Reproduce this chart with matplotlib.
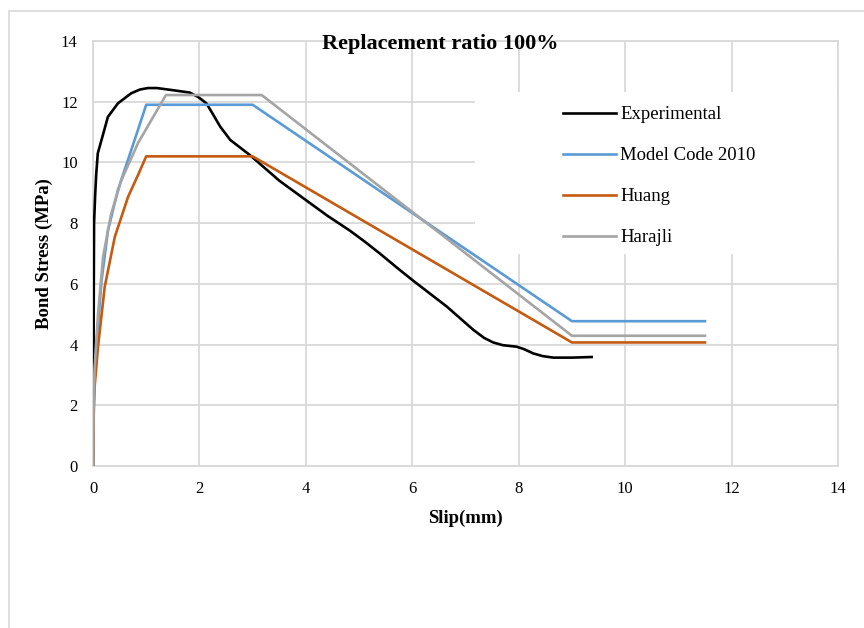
import matplotlib
matplotlib.use("Agg")
from matplotlib import pyplot as plt
from matplotlib.patches import Rectangle

plt.rcParams['font.family'] = ['Liberation Serif', 'DejaVu Serif']

# experimental curve
exp_s = [0, 0.01, 0.015, 0.02, 0.04, 0.06, 0.09, 0.16, 0.28, 0.47, 0.72, 0.88, 1.03, 1.2,
         1.5, 1.82, 1.98, 2.13, 2.25, 2.39, 2.58, 2.95, 3.5, 4.0, 4.4, 4.83, 5.1, 5.39,
         5.77, 6.02, 6.65, 7.15, 7.35, 7.52, 7.7, 7.96, 8.1, 8.27, 8.45, 8.65, 9.0, 9.37]
exp_t = [0, 3.0, 6.0, 8.0, 8.9, 9.6, 10.3, 10.74, 11.5, 11.95, 12.28, 12.4, 12.45, 12.45,
         12.38, 12.3, 12.15, 11.95, 11.6, 11.18, 10.74, 10.24, 9.4, 8.76, 8.25, 7.75, 7.4,
         7.0, 6.45, 6.1, 5.25, 4.48, 4.22, 4.07, 3.98, 3.93, 3.85, 3.71, 3.62, 3.57, 3.57,
         3.59]

# Model Code 2010
mc_s = [0, 0.01, 0.03, 0.063, 0.16, 0.28, 0.47, 0.66, 0.85, 1.0, 3.0, 9.0, 11.5]
mc_t = [0, 1.9, 3.0, 3.93, 6.1, 7.75, 9.1, 10.1, 11.1, 11.9, 11.9, 4.77, 4.77]

# Huang
hu_s = [0, 0.01, 0.03, 0.094, 0.22, 0.41, 0.66, 0.85, 1.0, 3.0, 9.0, 11.5]
hu_t = [0, 1.5, 2.6, 3.93, 5.9, 7.55, 8.87, 9.6, 10.2, 10.2, 4.07, 4.07]

# Harajli
ha_s = [0, 0.01, 0.03, 0.094, 0.19, 0.34, 0.53, 0.85, 1.37, 3.17, 9.0, 11.5]
ha_t = [0, 1.8, 3.2, 5.0, 6.9, 8.3, 9.4, 10.65, 12.22, 12.22, 4.29, 4.29]

fig = plt.figure(figsize=(8.64, 6.28), dpi=100)
ax = fig.add_axes([93/864, 1 - 466/628, 745/864, 425/628])

fig.patches.append(Rectangle((9/864, -0.2), 2, 1.2 - 11/628, transform=fig.transFigure,
                             fill=False, edgecolor='#D9D9D9', lw=1.2))

ax.plot(exp_s, exp_t, color='black', lw=1.9, label='Experimental', zorder=3)
ax.plot(mc_s, mc_t, color='#5B9BD5', lw=1.9, label='Model Code 2010', zorder=3)
ax.plot(hu_s, hu_t, color='#C55A11', lw=1.9, label='Huang', zorder=3)
ax.plot(ha_s, ha_t, color='#A5A5A5', lw=1.9, label='Harajli', zorder=3)

ax.set_xlim(0, 14)
ax.set_ylim(0, 14)
ax.set_xticks(range(0, 15, 2))
ax.set_yticks(range(0, 15, 2))
ax.set_axisbelow(True)
ax.grid(True, color='#D9D9D9', lw=1.3)
for sp in ax.spines.values():
    sp.set_color('#D9D9D9')
    sp.set_linewidth(1.3)
ax.tick_params(length=0, labelsize=12)
ax.tick_params(axis='y', pad=11)
ax.tick_params(axis='x', pad=11)

# white legend area over the gridlines
ax.add_patch(Rectangle((7.18, 6.98), 6.82, 5.34, facecolor='white', edgecolor='none', zorder=1))

ax.legend(loc='upper left', bbox_to_anchor=(470/745, 1 - 65/425), frameon=False,
          fontsize=13.5, handlelength=2.8, handletextpad=0.25, labelspacing=1.28,
          borderpad=0, borderaxespad=0)

ax.set_xlabel('Slip(mm)', fontsize=13.5, fontweight='bold', labelpad=9)
ax.set_ylabel('Bond Stress (MPa)', fontsize=13.5, fontweight='bold', labelpad=6)
fig.text(440/864, 1 - 44/628, 'Replacement ratio 100%', fontsize=16, fontweight='bold',
         ha='center', va='center')

fig.savefig('out.png', dpi=100, facecolor='white')
